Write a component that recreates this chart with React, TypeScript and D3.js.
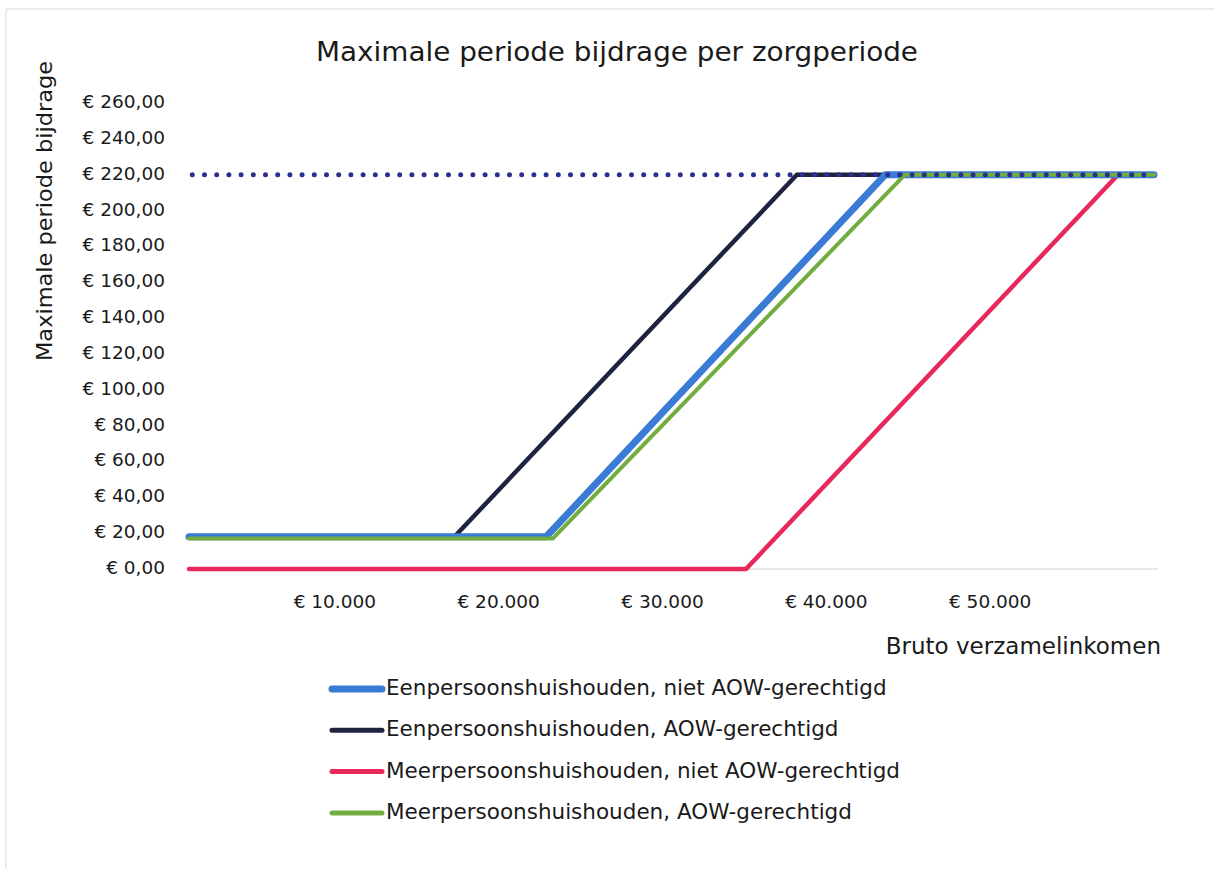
import * as d3 from "d3";

// income (x) and contribution (y) points per series
const blueX = [1100, 22900, 43600, 60000];
const blueY = [18, 18, 220, 220];
const navyX = [1100, 17300, 38200, 60000];
const navyY = [18, 18, 220, 220];
const redX = [1100, 35100, 57800, 60000];
const redY = [0, 0, 220, 220];
const greenX = [1100, 23300, 44800, 60000];
const greenY = [17, 17, 220, 220];
const maxX = [1300, 60000];
const maxY = [220, 220];

const yTicks = [0, 20, 40, 60, 80, 100, 120, 140, 160, 180, 200, 220, 240, 260];
const xTicks = [10000, 20000, 30000, 40000, 50000];

const legendNames = [
  "Eenpersoonshuishouden, niet AOW-gerechtigd",
  "Eenpersoonshuishouden, AOW-gerechtigd",
  "Meerpersoonshuishouden, niet AOW-gerechtigd",
  "Meerpersoonshuishouden, AOW-gerechtigd",
];

const FONT = "'DejaVu Sans', Verdana, sans-serif";
const TEXT = "#1a1a1a";

const COLORS = {
  blue: "#3a7bd5",
  navy: "#1e2340",
  red: "#e8275a",
  green: "#72ad3f",
  dots: "#2b2f8f",
};

const PLOT = { left: 171, right: 1154, top: 103, bottom: 569, axisFrom: 188, axisTo: 1158 };

type Series = { xs: number[]; ys: number[]; color: string; width: number };

export default function App() {
  const width = 1214;
  const height = 869;

  const xScale = d3.scaleLinear().domain([0, 60000]).range([PLOT.left, PLOT.right]);
  const yScale = d3.scaleLinear().domain([0, 260]).range([PLOT.bottom, PLOT.top]);

  const line = (xs: number[], ys: number[]) =>
    d3
      .line<number>()
      .x((_, i) => xScale(xs[i]))
      .y((d) => yScale(d))(ys) ?? undefined;

  // drawing order: red below, then navy, blue, green
  const series: Series[] = [
    { xs: redX, ys: redY, color: COLORS.red, width: 4.5 },
    { xs: navyX, ys: navyY, color: COLORS.navy, width: 4.5 },
    { xs: blueX, ys: blueY, color: COLORS.blue, width: 7 },
    { xs: greenX, ys: greenY, color: COLORS.green, width: 4 },
  ];

  const legendColors = [COLORS.blue, COLORS.navy, COLORS.red, COLORS.green];
  const legendWidths = [7, 5, 5, 5];

  const fmtY = (v: number) => "€ " + d3.format(",.2f")(v).replace(/,/g, "#").replace(".", ",").replace(/#/g, ".");
  const fmtX = (v: number) => "€ " + d3.format(",")(v).replace(/,/g, ".");

  return (
    <svg
      width={width}
      height={height}
      style={{ display: "block", position: "absolute", left: 0, top: 0, background: "#fff" }}
      xmlns="http://www.w3.org/2000/svg"
    >
      <rect x={0} y={0} width={width} height={height} fill="#fff" />
      <path d="M6,869 L6,9 L1214,9" fill="none" stroke="#d8d8d8" strokeWidth={1} />

      <text
        x={617}
        y={61}
        textAnchor="middle"
        fontSize={27}
        fontFamily={FONT}
        fill={TEXT}
        textLength={602}
        lengthAdjust="spacingAndGlyphs"
      >
        Maximale periode bijdrage per zorgperiode
      </text>

      <text
        transform="translate(52,211) rotate(-90)"
        textAnchor="middle"
        fontSize={22}
        fontFamily={FONT}
        fill={TEXT}
        textLength={300}
        lengthAdjust="spacingAndGlyphs"
      >
        Maximale periode bijdrage
      </text>

      <g className="y-axis">
        {yTicks.map((t) => (
          <text
            key={t}
            x={165}
            y={yScale(t)}
            textAnchor="end"
            dominantBaseline="middle"
            fontSize={18.5}
            fontFamily={FONT}
            fill={TEXT}
          >
            {fmtY(t)}
          </text>
        ))}
      </g>

      <g className="x-axis">
        <line x1={PLOT.axisFrom} x2={PLOT.axisTo} y1={yScale(0)} y2={yScale(0)} stroke="#cfcfcf" strokeWidth={1} />
        {xTicks.map((t) => (
          <text
            key={t}
            x={xScale(t)}
            y={608}
            textAnchor="middle"
            fontSize={18.5}
            fontFamily={FONT}
            fill={TEXT}
          >
            {fmtX(t)}
          </text>
        ))}
      </g>

      <text x={1161} y={654} textAnchor="end" fontSize={23} fontFamily={FONT} fill={TEXT}>
        Bruto verzamelinkomen
      </text>

      <g className="lines">
        {series.map((s, i) => (
          <path
            key={i}
            d={line(s.xs, s.ys)}
            fill="none"
            stroke={s.color}
            strokeWidth={s.width}
            strokeLinejoin="round"
            strokeLinecap="round"
          />
        ))}
        <path
          d={line(maxX, maxY)}
          fill="none"
          stroke={COLORS.dots}
          strokeWidth={5}
          strokeLinecap="round"
          strokeDasharray="0 12.2"
        />
      </g>

      <g className="legend">
        {legendNames.map((name, i) => {
          const y = 689 + i * 41.3;
          return (
            <g key={name}>
              <line
                x1={332}
                x2={382}
                y1={y}
                y2={y}
                stroke={legendColors[i]}
                strokeWidth={legendWidths[i]}
                strokeLinecap="round"
              />
              <text x={386} y={y} dominantBaseline="middle" fontSize={21.5} fontFamily={FONT} fill={TEXT}>
                {name}
              </text>
            </g>
          );
        })}
      </g>
    </svg>
  );
}
